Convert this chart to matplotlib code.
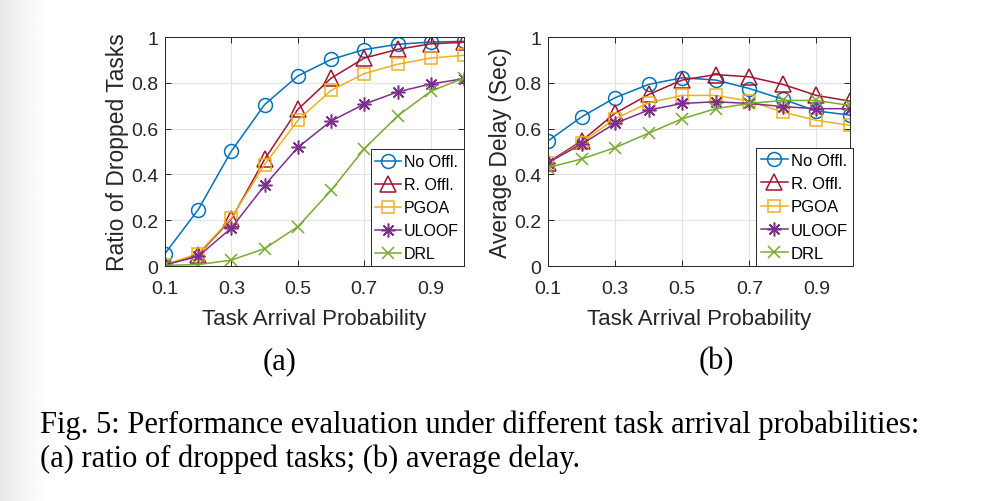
import numpy as np
import matplotlib
matplotlib.use("Agg")
import matplotlib.pyplot as plt

plt.rcParams.update({
    "font.family": "Liberation Sans",
    "font.size": 12,
})

# Data
prob = [0.1, 0.2, 0.3, 0.4, 0.5, 0.6, 0.7, 0.8, 0.9, 1.0]
labels = ["No Offl.", "R. Offl.", "PGOA", "ULOOF", "DRL"]

drop_no_offl = [0.054, 0.246, 0.502, 0.705, 0.830, 0.902, 0.945, 0.968, 0.978, 0.981]
drop_r_offl = [0.005, 0.050, 0.205, 0.466, 0.684, 0.820, 0.908, 0.946, 0.970, 0.977]
drop_pgoa = [0.005, 0.054, 0.210, 0.443, 0.636, 0.767, 0.840, 0.881, 0.908, 0.920]
drop_uloof = [0.005, 0.042, 0.166, 0.352, 0.518, 0.633, 0.707, 0.760, 0.795, 0.818]
drop_drl = [0.003, 0.006, 0.026, 0.076, 0.172, 0.330, 0.512, 0.655, 0.763, 0.821]

delay_no_offl = [0.546, 0.651, 0.735, 0.793, 0.822, 0.812, 0.775, 0.728, 0.677, 0.659]
delay_r_offl = [0.452, 0.546, 0.667, 0.749, 0.812, 0.836, 0.826, 0.793, 0.745, 0.720]
delay_pgoa = [0.449, 0.539, 0.643, 0.713, 0.745, 0.745, 0.720, 0.672, 0.636, 0.614]
delay_uloof = [0.452, 0.532, 0.623, 0.681, 0.710, 0.717, 0.710, 0.696, 0.687, 0.687]
delay_drl = [0.430, 0.467, 0.517, 0.580, 0.643, 0.687, 0.710, 0.723, 0.723, 0.701]

xticks = [0.1, 0.3, 0.5, 0.7, 0.9]
yticks = [0, 0.2, 0.4, 0.6, 0.8, 1]

# MATLAB default colour order
colors = ["#0072BD", "#A2142F", "#EDB120", "#7E2F8E", "#77AC30"]
markers = ["o", "^", "s", (8, 2, 0), "x"]   # (8,2,0) = MATLAB-like asterisk
msizes = [10, 11, 8.5, 10, 8]

fig = plt.figure(figsize=(10.04, 5.02), dpi=100)

# light grey shade at the left page edge
bg = fig.add_axes([0, 0, 0.045, 1], zorder=-10)
bg.imshow(np.linspace(0.91, 1.0, 50)[None, :], cmap="gray", vmin=0, vmax=1,
          aspect="auto", extent=[0, 1, 0, 1])
bg.axis("off")

dark = "#262626"


def draw_panel(ax, series, ylabel, legsize):
    for vals, lab, c, m, ms in zip(series, labels, colors, markers, msizes):
        ax.plot(prob, vals, color=c, marker=m, markersize=ms, markerfacecolor="none",
                markeredgewidth=1.1, linewidth=1.1, label=lab)
    ax.set_xlim(0.1, 1.0)
    ax.set_ylim(0, 1)
    ax.set_xticks(xticks)
    ax.set_xticklabels(["0.1", "0.3", "0.5", "0.7", "0.9"])
    ax.set_yticks(yticks)
    ax.set_yticklabels(["0", "0.2", "0.4", "0.6", "0.8", "1"])
    ax.grid(True, color="#e3e3e3", linewidth=0.8)
    ax.set_axisbelow(True)
    ax.tick_params(direction="in", length=4, width=0.7, colors=dark,
                   labelsize=14, top=True, right=True)
    ax.tick_params(axis="x", pad=10)
    ax.tick_params(axis="y", pad=5)
    for sp in ax.spines.values():
        sp.set_color(dark)
        sp.set_linewidth(0.7)
    ax.set_xlabel("Task Arrival Probability", fontsize=16, color=dark, labelpad=8)
    ax.set_ylabel(ylabel, fontsize=16.5, color=dark, labelpad=1)
    leg = ax.legend(loc="lower right", fontsize=legsize, borderaxespad=0, handlelength=1.6,
                    handletextpad=0.2, labelspacing=0.5, borderpad=0.3,
                    fancybox=False, framealpha=1, edgecolor=dark)
    leg.get_frame().set_linewidth(0.7)
    return leg


ax1 = fig.add_axes([0.1643, 0.4681, 0.2978, 0.4562])
draw_panel(ax1, [drop_no_offl, drop_r_offl, drop_pgoa, drop_uloof, drop_drl],
           "Ratio of Dropped Tasks", 11.5)

ax2 = fig.add_axes([0.5458, 0.4681, 0.3008, 0.4562])
leg2 = draw_panel(ax2, [delay_no_offl, delay_r_offl, delay_pgoa, delay_uloof, delay_drl],
                  "Average Delay (Sec)", 12)
# right-hand legend pokes slightly past the axes edge
leg2.set_bbox_to_anchor((1.01, 0), transform=ax2.transAxes)

serif = "Liberation Serif"
fig.text(280 / 1004, 1 - 362 / 502, "(a)", family=serif, fontsize=22, ha="center", va="center")
fig.text(716 / 1004, 1 - 362 / 502, "(b)", family=serif, fontsize=22, ha="center", va="center")
fig.text(40 / 1004, 1 - 433 / 502,
         "Fig. 5: Performance evaluation under different task arrival probabilities:",
         family=serif, fontsize=22, ha="left", va="baseline")
fig.text(40 / 1004, 1 - 467 / 502, "(a) ratio of dropped tasks; (b) average delay.",
         family=serif, fontsize=22, ha="left", va="baseline")

fig.savefig("out.png", dpi=100)
